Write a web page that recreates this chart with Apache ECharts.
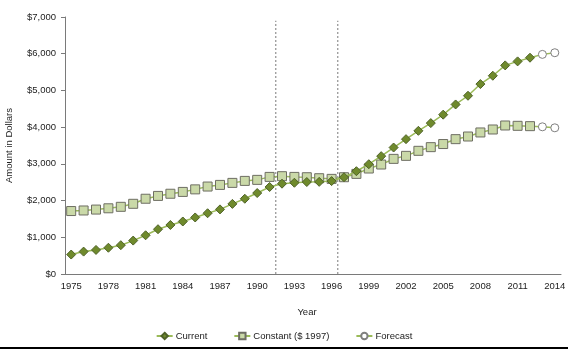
<!DOCTYPE html>
<html>
<head>
<meta charset="utf-8">
<script src="https://cdn.jsdelivr.net/npm/echarts@6/dist/echarts.min.js"></script>
<style>
html,body{margin:0;padding:0;background:#fff;}
#c{width:568px;height:361px;}
</style>
</head>
<body>
<div id="c"></div>
<script>
const years = [];
for (let y = 1975; y <= 2014; y++) years.push(String(y));

const currentVals = [530, 610, 655, 715, 785, 910, 1055, 1220, 1335, 1430,
  1540, 1655, 1760, 1910, 2050, 2205, 2370, 2460, 2485, 2505,
  2510, 2530, 2636, 2800, 2990, 3210, 3445, 3673, 3900, 4110,
  4340, 4618, 4855, 5173, 5400, 5682, 5791, 5891, null, null];

const constantVals = [1715, 1730, 1755, 1790, 1830, 1912, 2050, 2127, 2186, 2236,
  2305, 2382, 2427, 2482, 2536, 2564, 2645, 2664, 2645, 2636,
  2609, 2591, 2636, 2727, 2873, 2982, 3136, 3218, 3355, 3455,
  3540, 3673, 3745, 3855, 3936, 4045, 4036, 4027, null, null];

const forecastYears = ['2012', '2013', '2014'];
const forecastCurrent = [5891, 5982, 6027];
const forecastConstant = [4027, 4009, 3982];

const dividerYears = [1991.5, 1996.5];
const dividerTop = 6900;

const FONT = "'Liberation Sans', Arial, sans-serif";
const FS = 9.5;

function forecastData(vals) {
  return years.map(y => {
    const i = forecastYears.indexOf(y);
    if (i < 0) return null;
    if (i === 0) return { value: vals[i], symbol: 'none' };
    return vals[i];
  });
}

const chart = echarts.init(document.getElementById('c'), null, { renderer: 'canvas' });

const lineColor = '#9BBB59';

const series = [
  {
    name: 'Current', type: 'line', data: currentVals,
    symbol: 'diamond', symbolSize: 9, showAllSymbol: true,
    lineStyle: { color: lineColor, width: 1.5 },
    itemStyle: { color: '#6F8A2C', borderColor: '#4F6228', borderWidth: 1 },
    z: 4
  },
  {
    name: 'Constant ($ 1997)', type: 'line', data: constantVals,
    symbol: 'rect', symbolSize: 9, showAllSymbol: true,
    lineStyle: { color: lineColor, width: 1.5 },
    itemStyle: { color: '#CAD9A8', borderColor: '#6E6E63', borderWidth: 1 },
    z: 3
  },
  {
    name: 'Forecast', type: 'line', data: forecastData(forecastCurrent),
    symbol: 'circle', symbolSize: 8, showAllSymbol: true,
    lineStyle: { color: lineColor, width: 1.5 },
    itemStyle: { color: '#ffffff', borderColor: '#7F7F7F', borderWidth: 1 },
    z: 3
  },
  {
    name: 'Forecast', type: 'line', data: forecastData(forecastConstant),
    symbol: 'circle', symbolSize: 8, showAllSymbol: true,
    lineStyle: { color: lineColor, width: 1.5 },
    itemStyle: { color: '#ffffff', borderColor: '#7F7F7F', borderWidth: 1 },
    z: 3
  }
];

dividerYears.forEach(x => {
  series.push({
    name: 'divider', type: 'line', xAxisIndex: 1, yAxisIndex: 0,
    data: [[x, 0], [x, dividerTop]],
    symbol: 'none', silent: true,
    lineStyle: { color: '#7a7a7a', width: 1, type: [2, 2] },
    z: 1
  });
});

chart.setOption({
  animation: false,
  backgroundColor: '#ffffff',
  textStyle: { fontFamily: FONT },
  grid: { left: 65, right: 7, top: 17, bottom: 87, containLabel: false, outerBoundsMode: 'none' },
  title: {
    text: 'Year', left: 302, top: 302, textAlign: 'center',
    textStyle: { fontFamily: FONT, fontSize: FS, fontWeight: 'normal', color: '#222' }
  },
  legend: {
    data: ['Current', 'Constant ($ 1997)', 'Forecast'],
    left: 'center', top: 326, itemWidth: 16, itemHeight: 8, itemGap: 26,
    textStyle: { fontFamily: FONT, fontSize: FS, color: '#222', padding: [0, 0, 0, -2] }
  },
  xAxis: [
    {
      type: 'category', data: years, boundaryGap: true,
      axisLine: { lineStyle: { color: '#7a7a7a', width: 1 } },
      axisTick: { interval: 0, length: 4, lineStyle: { color: '#7a7a7a' } },
      axisLabel: {
        interval: 2, margin: 7, fontFamily: FONT, fontSize: FS, color: '#222'
      },
      splitLine: { show: false }
    },
    {
      type: 'value', min: 1974.5, max: 2014.5, show: false
    }
  ],
  yAxis: {
    type: 'value', min: 0, max: 7000, interval: 1000,
    name: 'Amount in Dollars', nameLocation: 'middle', nameGap: 51,
    nameTextStyle: { fontFamily: FONT, fontSize: FS, color: '#222' },
    axisLine: { show: true, lineStyle: { color: '#7a7a7a', width: 1 } },
    axisTick: { show: true, length: 4, lineStyle: { color: '#7a7a7a' } },
    axisLabel: {
      margin: 9, fontFamily: FONT, fontSize: FS, color: '#222',
      formatter: v => '$' + v.toLocaleString('en-US')
    },
    splitLine: { show: false }
  },
  graphic: [
    { type: 'line', shape: { x1: 0, y1: 348, x2: 568, y2: 348 },
      style: { stroke: '#000', lineWidth: 2 } }
  ],
  series: series
});
</script>
</body>
</html>
